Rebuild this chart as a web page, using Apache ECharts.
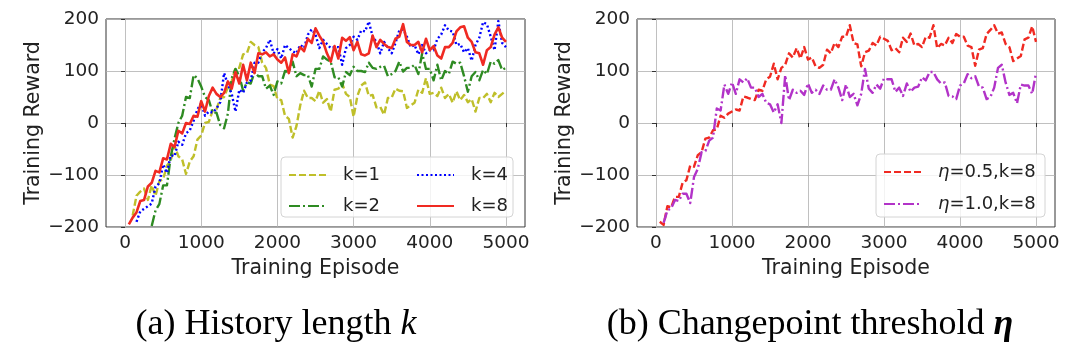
<!DOCTYPE html>
<html><head><meta charset="utf-8">
<script src="https://cdn.jsdelivr.net/npm/echarts@6/dist/echarts.min.js"></script>
<style>html,body{margin:0;padding:0;background:#fff}#c{width:1080px;height:360px}</style>
</head><body><div id="c"></div>
<script>
// x sampling: every 50 episodes, 50..5000
const episodes = Array.from({length: 100}, (_, i) => (i + 1) * 50);
const xTicks = [0, 1000, 2000, 3000, 4000, 5000];
const yMin = -200, yMax = 200, yStep = 100;

const k1 = [null,-178,-140,-132,-126,-148,-120,-140,-112,-108,-82,-72,-44,-64,-70,-98,-74,-64,-32,-24,
0,2,24,26,48,50,68,80,106,106,132,134,156,150,146,116,106,74,71,46,
44,14,8,-28,-6,34,62,48,48,42,62,39,46,22,64,66,76,56,50,12,
52,72,78,52,54,30,31,16,48,49,66,62,61,29,34,39,64,58,86,56,
58,52,68,48,56,39,61,44,54,40,46,22,48,48,56,40,58,50,56,62];

const k2 = [null,null,null,null,null,null,-198,-168,-156,-120,-120,-64,-30,0,14,50,48,92,86,70,
50,44,20,20,-4,-10,18,86,104,90,62,78,76,98,90,90,66,72,54,80,
76,100,98,118,90,96,92,92,70,104,104,128,122,118,88,88,70,98,92,108,
100,100,98,116,106,104,108,110,90,94,100,118,99,106,106,112,94,134,104,104,
82,112,82,100,94,118,114,116,90,60,90,98,82,102,94,118,114,121,102,106];

const k4 = [null,null,-190,-170,-165,-160,-155,-122,-116,-80,-96,-62,-64,-36,-42,-20,-14,4,26,38,
14,22,20,28,40,96,74,56,22,64,58,78,82,116,116,136,144,160,134,142,
124,150,144,138,134,150,144,170,180,170,144,160,152,144,146,146,112,144,150,166,
160,178,176,195,166,156,134,156,144,134,154,178,180,166,146,150,132,150,134,140,
140,162,170,188,178,176,150,152,136,144,120,150,164,194,190,166,140,196,154,146];

const k8 = [-195,-182,-172,-150,-148,-122,-115,-92,-95,-68,-70,-40,-46,-15,-20,0,-2,14,12,42,
22,52,68,56,50,58,80,66,98,76,112,82,116,96,134,132,136,128,132,122,
116,126,96,132,128,146,138,162,154,182,168,156,134,118,148,124,164,158,165,140,
156,132,130,134,168,146,160,152,146,144,162,166,190,156,150,150,156,136,162,140,
148,130,124,146,146,154,176,184,186,164,156,136,134,112,140,146,170,184,164,156];

const eta05 = [-190,-196,-160,-162,-142,-142,-115,-110,-82,-84,-62,-56,-30,-28,-14,-12,14,10,18,22,
26,24,51,49,46,44,64,62,84,89,114,84,106,112,134,126,144,124,146,122,
126,109,106,112,141,134,154,146,166,166,188,154,151,109,136,139,154,149,166,162,
158,140,144,136,164,156,172,149,152,146,166,164,188,144,152,149,164,154,171,166,
166,149,146,110,141,144,171,179,188,172,174,152,146,119,124,129,161,164,186,156];

const eta10 = [null,-192,-168,-164,-148,-150,-136,-136,-154,-104,-88,-56,-54,-34,-28,28,24,74,56,78,
56,84,78,86,68,68,50,56,39,36,20,36,0,92,44,64,58,62,54,76,
58,64,56,72,64,64,84,68,44,74,50,56,34,56,104,66,58,74,66,86,
84,84,60,68,52,76,60,68,70,88,82,98,98,84,76,78,52,51,46,72,
76,94,86,90,70,68,46,50,68,106,112,78,54,58,38,74,72,72,56,96];

const FONT = 'DejaVu Sans';
const C = {k1:'#bfbf2a', k2:'#2e8b22', k4:'#0000ff', k8:'#f02a22', e05:'#f02a22', e10:'#b233c8'};

function pts(arr){ const out=[]; arr.forEach((v,i)=>{ if(v!==null) out.push([episodes[i], v]); }); return out; }
function mk(name, arr, color, dash, g, w){
  return {name, type:'line', xAxisIndex:g, yAxisIndex:g, data:pts(arr), symbol:'none', showSymbol:false,
    lineStyle:{color, width:w, type:dash, cap:'butt', join:'round'}, itemStyle:{color}, clip:true, animation:false, emphasis:{disabled:true}};
}
const minus = v => (v < 0 ? '\u2212' + Math.abs(v) : String(v));

function xAx(g){
  return {gridIndex:g, type:'value', min:-250, max:5250,
    axisLine:{show:false},
    axisTick:{show:true, length:4, inside:false, lineStyle:{color:'#333', width:1}, customValues:xTicks},
    axisLabel:{customValues:xTicks, fontFamily:FONT, fontSize:18.5, color:'#222', margin:7, formatter:minus},
    splitLine:{show:true, lineStyle:{color:'#b0b0b0', width:0.8}},
    name:'Training Episode', nameLocation:'middle', nameGap:26,
    nameTextStyle:{fontFamily:FONT, fontSize:20.5, color:'#222'}};
}
function yAx(g){
  return {gridIndex:g, type:'value', min:yMin, max:yMax, interval:yStep,
    axisLine:{show:false},
    axisTick:{show:true, length:4, inside:false, lineStyle:{color:'#333', width:1}},
    axisLabel:{fontFamily:FONT, fontSize:18.5, color:'#222', margin:7, formatter:minus},
    splitLine:{show:true, lineStyle:{color:'#b0b0b0', width:0.8}},
    name:'Training Reward', nameLocation:'middle', nameGap:57, nameRotate:90,
    nameTextStyle:{fontFamily:FONT, fontSize:20.5, color:'#222'}};
}
const legText = {fontFamily:FONT, fontSize:18, color:'#222', padding:[0,0,0,12],
  rich:{i:{fontFamily:FONT, fontStyle:'italic', fontSize:18, color:'#222'}, n:{fontFamily:FONT, fontSize:18, color:'#222'}}};
function leg(data, left, top, gap){
  return {data, orient:'vertical', left, top, itemWidth:37, itemHeight:14, itemGap:gap, padding:0,
    selectedMode:false, z:20, textStyle:legText,
    itemStyle:{opacity:0, borderWidth:0},
    formatter: n => n.charAt(0)==='η' ? '{i|η}{n|' + n.slice(1) + '}' : n};
}

const chart = echarts.init(document.getElementById('c'), null, {renderer:'canvas'});
chart.setOption({
  animation:false,
  backgroundColor:'#fff',
  grid:[
    {left:106, top:19, width:419, height:208, show:true, borderColor:'#333', borderWidth:1, backgroundColor:'transparent'},
    {left:637, top:19, width:418, height:208, show:true, borderColor:'#333', borderWidth:1, backgroundColor:'transparent'}
  ],
  xAxis:[xAx(0), xAx(1)],
  yAxis:[yAx(0), yAx(1)],
  legend:[
    leg(['k=1','k=2'], 288, 166, 13),
    leg(['k=4','k=8'], 416, 166, 13),
    leg(['η=0.5,k=8','η=1.0,k=8'], 883, 163, 14)
  ],
  series:[
    mk('k=1', k1, C.k1, [7,3], 0, 2.4),
    mk('k=2', k2, C.k2, [11,3,2,3], 0, 2.4),
    mk('k=4', k4, C.k4, [2,2.5], 0, 2.4),
    mk('k=8', k8, C.k8, 'solid', 0, 2.6),
    mk('η=0.5,k=8', eta05, C.e05, [7,3], 1, 2.4),
    mk('η=1.0,k=8', eta10, C.e10, [11,3,2,3], 1, 2.4)
  ],
  graphic:[
    {type:'rect', z:10, shape:{x:281, y:157, width:232, height:60, r:4}, style:{fill:'rgba(255,255,255,0.8)', stroke:'#d4d4d4', lineWidth:1}},
    {type:'rect', z:10, shape:{x:876, y:154, width:169, height:63, r:4}, style:{fill:'rgba(255,255,255,0.8)', stroke:'#d4d4d4', lineWidth:1}},
    {type:'text', z:10, x:276, y:325, style:{text:'(a) History length {k|k}', fontFamily:'Liberation Serif', fontSize:36, fill:'#000', align:'center', verticalAlign:'middle',
      rich:{k:{fontFamily:'Liberation Serif', fontStyle:'italic', fontSize:36, fill:'#000'}}}},
    {type:'text', z:10, x:810, y:325, style:{text:'(b) Changepoint threshold {e|η}', fontFamily:'Liberation Serif', fontSize:36, fill:'#000', align:'center', verticalAlign:'middle',
      rich:{e:{fontFamily:'Liberation Serif', fontStyle:'italic', fontWeight:'bold', fontSize:36, fill:'#000'}}}}
  ]
});
</script></body></html>
